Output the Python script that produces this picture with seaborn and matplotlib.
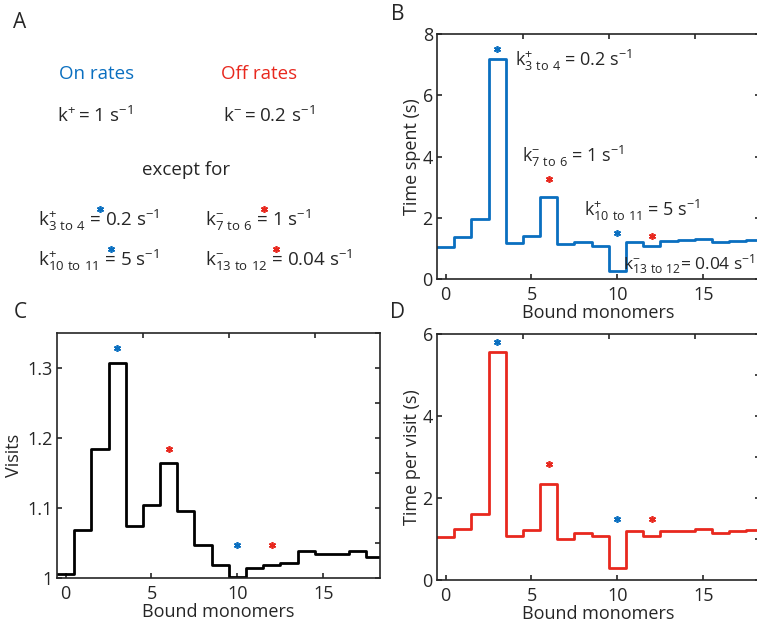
import numpy as np
import pandas as pd
import matplotlib
matplotlib.use('Agg')
import matplotlib.pyplot as plt
import seaborn as sns
from matplotlib.ticker import FixedLocator, MultipleLocator, FuncFormatter

# values, one per bound-monomer state 0..18
monomers = list(range(19))
time_spent = [1.05, 1.37, 1.96, 7.18, 1.18, 1.42, 2.68, 1.13, 1.21, 1.09,
              0.25, 1.20, 1.08, 1.24, 1.26, 1.31, 1.22, 1.24, 1.28]
visits = [1.006, 1.069, 1.184, 1.307, 1.075, 1.104, 1.165, 1.096, 1.047, 1.018,
          1.001, 1.015, 1.019, 1.022, 1.038, 1.034, 1.035, 1.038, 1.030]
time_per_visit = [1.06, 1.25, 1.60, 5.56, 1.07, 1.23, 2.33, 0.99, 1.14, 1.08,
                  0.285, 1.20, 1.07, 1.20, 1.19, 1.24, 1.14, 1.19, 1.21]

# states whose rates were changed (asterisks)
on_states = [3, 10]
off_states = [6, 12]
b_on_y, b_off_y = [7.5, 1.5], [3.27, 1.4]
c_on_y, c_off_y = [1.329, 1.047], [1.185, 1.047]
d_on_y, d_off_y = [5.8, 1.48], [2.82, 1.48]

blue = '#0a6fc0'
red = '#e8281e'

sns.set_style('ticks')
plt.rcParams['font.family'] = ['Open Sans', 'DejaVu Sans']
plt.rcParams['mathtext.default'] = 'regular'
plt.rcParams['axes.linewidth'] = 1.2

W, H = 757, 623
fig = plt.figure(figsize=(W / 100, H / 100), dpi=100)

# full-figure overlay in pixel coordinates for panel A and the letters
ov = fig.add_axes([0, 0, 1, 1])
ov.set_xlim(0, W)
ov.set_ylim(H, 0)
ov.axis('off')

FS = 13
FA = 13.5
ov.text(20, 22, 'A', fontsize=15, ha='center', va='center')
ov.text(398, 15, 'B', fontsize=15, ha='center', va='center')
ov.text(20, 313, 'C', fontsize=15, ha='center', va='center')
ov.text(398, 312, 'D', fontsize=15, ha='center', va='center')

ov.text(97, 79, 'On rates', color=blue, fontsize=FA, ha='center', va='baseline')
ov.text(259, 79, 'Off rates', color=red, fontsize=FA, ha='center', va='baseline')
ov.text(57, 122, r'$k^{+} = 1\ s^{-1}$', fontsize=FA, va='baseline')
ov.text(223, 122, r'$k^{-} = 0.2\ s^{-1}$', fontsize=FA, va='baseline')
ov.text(186, 175, 'except for', fontsize=FA, ha='center', va='baseline')
ov.text(38, 226, r'$k^{+}_{3\ to\ 4}$ = 0.2 s$^{-1}$', fontsize=FA, va='baseline')
ov.text(205, 226, r'$k^{-}_{7\ to\ 6}$ = 1 s$^{-1}$', fontsize=FA, va='baseline')
ov.text(38, 266, r'$k^{+}_{10\ to\ 11}$ = 5 s$^{-1}$', fontsize=FA, va='baseline')
ov.text(205, 266, r'$k^{-}_{13\ to\ 12}$ = 0.04 s$^{-1}$', fontsize=FA, va='baseline')
star = dict(ls='none', marker=(6, 2, 0), ms=5, mew=1.2)
ov.plot([100, 111], [209, 249], color=blue, **star)
ov.plot([264, 276], [209, 249], color=red, **star)


def style_axis(ax, ylim, yticks, yminor, ylabel, ypad):
    ax.set_xlim(-0.5, 18.3)
    ax.set_ylim(*ylim)
    ax.set_xticks([0, 5, 10, 15])
    ax.set_yticks(yticks)
    ax.xaxis.set_minor_locator(FixedLocator([4.5, 9.5, 14.5]))
    ax.yaxis.set_minor_locator(MultipleLocator(yminor))
    ax.yaxis.set_major_formatter(FuncFormatter(lambda v, p: f'{v:g}'))
    ax.tick_params(which='major', direction='in', length=3.5, width=1.2,
                   top=False, right=True, labelsize=FS)
    ax.tick_params(axis='x', which='major', pad=5)
    ax.tick_params(axis='y', which='major', pad=3)
    ax.tick_params(axis='x', which='minor', direction='in', length=3.5,
                   width=1.2, bottom=False, top=True)
    ax.tick_params(axis='y', which='minor', direction='in', length=3.5,
                   width=1.2, left=False, right=True)
    ax.set_xlabel('Bound monomers', fontsize=FS, labelpad=0)
    ax.set_ylabel(ylabel, fontsize=FS, labelpad=ypad)
    for s in ax.spines.values():
        s.set_visible(True)
        s.set_linewidth(1.2)


def step_panel(ax, values, color):
    sns.histplot(x=monomers, weights=values, discrete=True, element='step',
                 fill=False, color=color, linewidth=2, ax=ax)


axw = 323 / W
ax_b = fig.add_axes([437 / W, 1 - 279 / H, axw, 245 / H])
ax_c = fig.add_axes([57 / W, 1 - 578 / H, axw, 245 / H])
ax_d = fig.add_axes([437 / W, 1 - 580 / H, axw, 246 / H])

# B: time spent
step_panel(ax_b, time_spent, blue)
ax_b.plot(on_states, b_on_y, color=blue, **star)
ax_b.plot(off_states, b_off_y, color=red, **star)
style_axis(ax_b, (0, 8), [0, 2, 4, 6, 8], 1, 'Time spent (s)', 1)
ax_b.tick_params(axis='y', which='minor', right=False)
ax_b.text(4.06, 6.97, r'$k^{+}_{3\ to\ 4}$ = 0.2 s$^{-1}$', fontsize=FS, va='baseline')
ax_b.text(4.45, 3.81, r'$k^{-}_{7\ to\ 6}$ = 1 s$^{-1}$', fontsize=FS, va='baseline')
ax_b.text(8.08, 2.05, r'$k^{+}_{10\ to\ 11}$ = 5 s$^{-1}$', fontsize=FS, va='baseline')
ax_b.text(10.35, 0.30, r'$k^{-}_{13\ to\ 12}$= 0.04 s$^{-1}$', fontsize=12.5, va='baseline')

# C: visits
step_panel(ax_c, visits, 'black')
ax_c.plot(on_states, c_on_y, color=blue, **star)
ax_c.plot(off_states, c_off_y, color=red, **star)
style_axis(ax_c, (1.0, 1.35), [1.0, 1.1, 1.2, 1.3], 0.05, 'Visits', 3)

# D: time per visit
step_panel(ax_d, time_per_visit, red)
ax_d.plot(on_states, d_on_y, color=blue, **star)
ax_d.plot(off_states, d_off_y, color=red, **star)
style_axis(ax_d, (0, 6), [0, 2, 4, 6], 1, 'Time per visit (s)', 1)

fig.savefig('out.png', dpi=100)
